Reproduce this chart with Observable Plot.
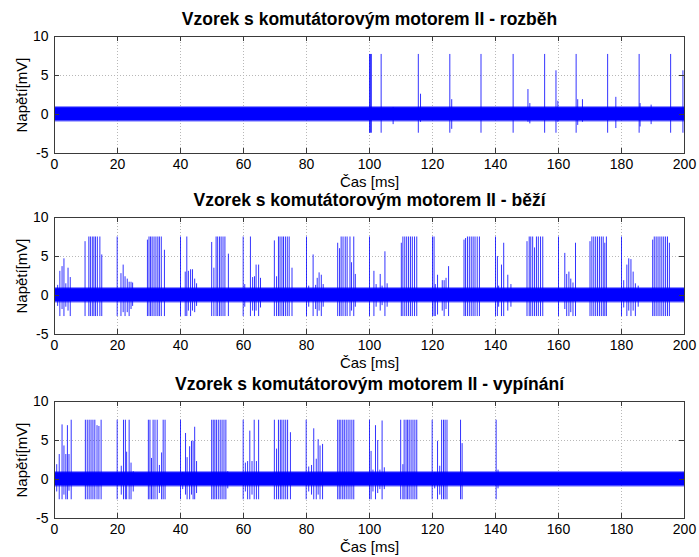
<!DOCTYPE html>
<html><head><meta charset="utf-8">
<script src="https://cdn.jsdelivr.net/npm/d3@7"></script>
<script src="https://cdn.jsdelivr.net/npm/@observablehq/plot@0.6"></script>
<style>
body{margin:0;background:#fff;}
#chart{position:relative;width:699px;height:557px;background:#fff;overflow:hidden;}
#chart svg{position:absolute;left:0;}
</style></head><body><div id="chart"></div>
<script>
// ---- data ----
const titles = [
  "Vzorek s komutátorovým motorem II - rozběh",
  "Vzorek s komutátorovým motorem II - běží",
  "Vzorek s komutátorovým motorem II - vypínání"
];
const xLabel = "Čas [ms]";
const yLabel = "Napětí[mV]";
const xTicks = [0, 20, 40, 60, 80, 100, 120, 140, 160, 180, 200];
const yTicks = [-5, 0, 5, 10];
const xGrid = [20, 40, 60, 80, 100, 120, 140, 160, 180];
const yGrid = [0, 5];

// noise band envelope (time, low, high)
const bandTime = [0, 200];
const bandOuterLo = [-0.95, -0.95];
const bandOuterHi = [1.0, 1.0];
const bandInnerLo = [-0.8, -0.8];
const bandInnerHi = [0.85, 0.85];

// spikes: [time ms, max mV, min mV]
const spikesStart = [
  [100.0,7.7,-2.4],[100.3,7.7,-2.4],[100.6,7.7,-2.4],[103.7,7.7,-2.4],[107.5,0.9,-1.3],
  [115.5,7.7,-2.4],[116.2,2.6,-1.0],[125.5,7.7,-2.4],[126.1,1.9,-1.9],[135.4,7.7,-2.4],
  [145.6,7.7,-2.4],[150.3,3.2,-1.0],[150.9,1.4,-1.2],[155.6,7.7,-2.4],[159.2,5.6,-2.4],
  [159.8,1.7,-1.0],[165.6,7.7,-2.4],[166.1,1.9,-1.4],[167.6,1.9,-1.0],[175.6,7.7,-2.4],
  [178.2,2.2,-1.8],[185.6,7.7,-2.4],[185.9,1.4,-1.6],[189.4,1.2,-1.3],[195.6,7.7,-2.4],
  [199.5,5.6,-2.4]
];
const spikesRunning = [
  [1.0,1.3,-1.4],[1.7,3.1,-2.7],[2.4,3.7,-1.8],[3.0,4.7,-2.7],[3.6,1.5,-1.5],[4.3,3.5,-2.0],[5.0,2.3,-2.7],
  [9.7,6.9,-2.7],[10.9,7.5,-2.7],[11.4,7.5,-2.7],[12.0,7.5,-2.7],[12.5,7.5,-2.7],[13.0,7.5,-2.7],[13.6,7.5,-2.7],[14.4,7.5,-2.7],[15.0,5.2,-2.7],
  [19.9,7.5,-2.7],[21.1,2.8,-2.7],[21.8,3.9,-2.2],[22.4,2.4,-2.7],[23.1,2.1,-2.2],[23.7,1.7,-2.7],[24.3,1.7,-1.8],[24.8,1.6,-1.4],
  [29.5,7.1,-2.7],[30.0,7.5,-2.7],[30.5,7.5,-2.7],[31.0,7.5,-2.7],[31.6,7.5,-2.7],[32.2,7.5,-2.7],[32.8,7.5,-2.7],[33.3,7.5,-2.7],[33.9,7.5,-2.7],[34.9,5.8,-2.7],
  [40.0,7.5,-2.7],[41.5,3.0,-2.7],[42.0,7.5,-2.7],[42.5,3.1,-2.0],[43.2,3.3,-2.7],[43.8,3.3,-2.0],[44.5,2.1,-2.2],[45.1,1.5,-1.4],
  [49.9,6.8,-2.7],[50.6,3.5,-2.7],[51.3,7.5,-2.7],[51.8,7.5,-2.7],[52.4,7.5,-2.7],[52.9,7.5,-2.7],[53.5,7.5,-2.7],[54.1,7.5,-2.7],[55.2,5.3,-2.7],
  [59.9,7.5,-2.7],[60.4,1.4,-1.5],[62.2,7.5,-2.7],[62.9,2.3,-2.0],[63.5,2.4,-2.7],[64.0,3.9,-2.0],[64.8,3.9,-2.7],[65.4,2.2,-1.6],
  [69.8,7.0,-2.7],[70.5,2.4,-2.7],[71.1,7.5,-2.7],[71.6,7.5,-2.7],[72.2,7.5,-2.7],[72.7,7.5,-2.7],[73.3,7.5,-2.7],[73.9,7.5,-2.7],[74.5,7.5,-2.7],[75.4,3.5,-2.7],
  [80.0,7.5,-2.7],[80.7,1.2,-1.5],[82.1,5.2,-2.7],[82.9,1.3,-1.8],[83.4,2.2,-2.7],[84.0,2.9,-2.0],[84.7,2.6,-2.7],[85.3,1.4,-1.5],
  [89.9,6.7,-2.7],[90.5,6.0,-2.7],[91.0,7.5,-2.7],[91.6,7.5,-2.7],[92.3,7.5,-2.7],[92.9,7.5,-2.7],[93.8,7.5,-2.7],[94.3,4.2,-2.0],[95.0,7.5,-2.7],[95.5,2.7,-1.5],
  [100.0,7.5,-2.7],[101.4,3.1,-2.7],[102.1,1.4,-1.5],[103.4,2.7,-2.0],[104.0,1.2,-1.3],[104.9,5.6,-2.7],[105.6,1.5,-1.5],
  [110.1,6.7,-2.7],[110.6,7.5,-2.7],[111.2,7.5,-2.7],[111.8,7.5,-2.7],[112.4,7.5,-2.7],[113.0,7.5,-2.7],[113.6,7.5,-2.7],[114.3,7.5,-2.7],[115.0,7.5,-2.7],
  [120.0,7.5,-2.7],[120.5,7.5,-2.7],[120.9,1.4,-2.7],[121.6,2.6,-2.5],[123.1,1.9,-2.0],[123.7,1.9,-2.7],[124.3,2.2,-1.8],[125.1,3.7,-2.7],
  [130.0,7.1,-2.7],[130.5,7.3,-2.7],[131.1,7.5,-2.7],[131.7,7.5,-2.7],[132.3,7.5,-2.7],[132.9,7.5,-2.7],[133.5,7.5,-2.7],[134.2,7.5,-2.7],[134.9,7.5,-2.7],
  [140.0,7.5,-2.7],[140.6,5.0,-2.7],[141.0,1.2,-1.5],[141.9,3.9,-2.7],[142.6,6.7,-2.7],[143.9,2.6,-2.0],[144.9,1.4,-1.5],
  [150.0,6.9,-2.7],[150.7,7.5,-2.7],[151.2,7.5,-2.7],[151.8,7.5,-2.7],[152.4,6.1,-2.7],[153.0,7.5,-2.7],[153.6,7.5,-2.7],[154.3,7.5,-2.7],[155.0,7.5,-2.7],
  [160.0,7.5,-2.7],[162.0,5.4,-1.8],[162.6,2.7,-2.7],[163.3,3.0,-2.7],[163.9,2.1,-2.2],[164.6,1.6,-2.7],[165.4,6.7,-2.7],
  [170.0,6.9,-2.7],[170.6,7.5,-2.7],[171.2,7.5,-2.7],[171.8,7.5,-2.7],[172.4,7.5,-2.7],[173.0,7.5,-2.7],[173.6,7.5,-2.7],[174.2,7.5,-2.7],[174.7,6.7,-2.7],[175.2,7.5,-2.7],
  [180.0,7.5,-2.7],[180.7,1.9,-1.6],[181.7,3.9,-2.7],[182.3,4.7,-2.0],[183.0,4.6,-2.7],[183.7,3.0,-2.0],[184.4,1.5,-2.7],[185.3,1.2,-1.5],
  [189.9,7.1,-2.7],[190.4,7.5,-2.7],[191.0,7.5,-2.7],[191.6,7.5,-2.7],[192.2,7.5,-2.7],[192.8,7.5,-2.7],[193.4,7.5,-2.7],[194.0,7.5,-2.7],[194.6,7.5,-2.7],[195.2,6.7,-2.7]
];
const spikesStopping = [
  [0.0,7.6,-2.6],[0.7,1.9,-1.6],[1.5,3.2,-2.6],[2.4,7.0,-2.6],[3.0,4.3,-2.0],[3.6,3.2,-2.6],[4.1,6.9,-2.6],[4.6,3.2,-1.5],[5.3,7.6,-2.6],
  [9.8,7.6,-2.6],[10.4,7.6,-2.6],[11.0,7.6,-2.6],[11.6,7.6,-2.6],[12.2,7.6,-2.6],[12.8,7.6,-2.6],[13.5,6.9,-2.6],[14.1,6.8,-2.6],[14.8,7.6,-2.6],
  [19.9,7.6,-2.6],[21.2,1.7,-2.0],[21.9,7.6,-2.6],[22.5,7.6,-2.6],[22.9,3.5,-2.6],[23.7,7.6,-2.6],[24.3,2.1,-2.6],[25.0,1.0,-1.6],
  [29.8,7.6,-2.6],[30.3,7.6,-2.6],[30.8,2.7,-2.6],[31.3,7.6,-2.6],[31.9,7.6,-2.6],[32.6,7.6,-2.6],[33.3,1.8,-1.8],[34.0,3.4,-2.6],[34.5,7.6,-2.6],[35.1,7.6,-2.6],
  [40.0,7.6,-2.6],[40.7,0.9,-1.3],[41.6,5.9,-2.0],[42.1,2.8,-2.6],[42.9,4.2,-2.6],[43.5,4.9,-2.0],[44.0,4.9,-2.6],[44.5,6.7,-2.6],[45.1,2.3,-1.8],
  [49.9,7.6,-2.6],[50.4,7.6,-2.6],[50.9,7.6,-2.6],[51.4,7.6,-2.6],[52.0,7.6,-2.6],[52.6,7.6,-2.6],[53.2,7.6,-2.6],[53.8,7.6,-2.6],[54.4,7.6,-2.6],[55.0,1.0,-1.2],
  [59.9,7.6,-2.6],[60.6,2.1,-1.6],[61.3,2.3,-2.6],[62.0,6.2,-2.6],[62.7,2.3,-2.0],[63.4,7.6,-2.6],[64.1,2.3,-2.6],[64.8,7.6,-2.6],
  [69.8,7.6,-2.6],[70.5,3.9,-2.6],[71.1,7.6,-2.6],[71.7,7.6,-2.6],[72.2,7.6,-2.6],[72.8,7.6,-2.6],[73.4,7.6,-2.6],[74.0,7.6,-2.6],[74.9,6.0,-2.6],
  [79.9,7.6,-2.6],[80.7,1.6,-1.6],[81.6,1.8,-2.0],[82.3,6.5,-2.6],[83.1,2.6,-2.6],[83.7,5.1,-2.0],[84.3,4.3,-2.6],[85.1,4.5,-2.6],
  [89.9,7.6,-2.6],[90.4,7.6,-2.6],[90.9,7.6,-2.6],[91.5,7.6,-2.6],[92.0,7.6,-2.6],[92.6,7.6,-2.6],[93.2,7.6,-2.6],[93.8,7.6,-2.6],[94.4,7.6,-2.6],[95.0,7.6,-2.6],
  [100.0,7.6,-2.6],[100.5,3.6,-2.6],[101.1,1.2,-1.6],[101.9,6.9,-2.6],[102.6,5.0,-1.8],[103.3,1.2,-1.3],[104.0,7.5,-2.6],[104.7,1.5,-1.3],
  [109.9,7.6,-2.6],[110.6,1.9,-2.6],[111.0,7.6,-2.6],[111.6,7.6,-2.6],[112.1,7.6,-2.6],[112.6,7.6,-2.6],[113.2,7.6,-2.6],[113.8,7.6,-2.6],[114.4,7.6,-2.6],[115.0,7.6,-2.6],
  [119.9,7.6,-2.6],[120.7,0.9,-1.2],[121.6,4.9,-2.6],[122.3,1.7,-2.0],[122.9,7.6,-2.6],[123.5,7.6,-2.6],[124.0,7.6,-2.6],[124.6,7.6,-2.6],
  [128.9,7.6,-2.6],[129.4,4.6,-2.6],
  [140.2,7.6,-2.6],[140.8,1.2,-1.2]
];

// ---- drawing ----
const W = 699, H = 192, MT = 36, MB = 39, ML = 54, MR = 15;
const PW = W - ML - MR, PH = H - MT - MB;
const FONT = "'Liberation Sans', Arial, Helvetica, sans-serif";
const band = bandTime.map((t, i) => ({t, olo: bandOuterLo[i], ohi: bandOuterHi[i], ilo: bandInnerLo[i], ihi: bandInnerHi[i]}));

function panel(title, spikes, top) {
  const svg = Plot.plot({
    width: W, height: H,
    marginTop: MT, marginBottom: MB, marginLeft: ML, marginRight: MR,
    style: {background: "transparent", overflow: "visible", fontFamily: FONT, fontSize: "14px", color: "black"},
    x: {domain: [0, 200]},
    y: {domain: [-5, 10]},
    marks: [
      Plot.ruleX(xGrid, {stroke: "#b8b8b8", strokeDasharray: "1,2"}),
      Plot.ruleY(yGrid, {stroke: "#b8b8b8", strokeDasharray: "1,2"}),
      Plot.areaY(band, {x: "t", y1: "olo", y2: "ohi", fill: "#0000ff", fillOpacity: 0.6}),
      Plot.areaY(band, {x: "t", y1: "ilo", y2: "ihi", fill: "#0000ff"}),
      Plot.ruleX(spikes, {x: d => d[0], y1: d => d[2], y2: d => d[1], stroke: "#0000ff", strokeWidth: 1, strokeOpacity: 0.8}),
      Plot.frame({stroke: "#3a3a3a"}),
      Plot.ruleX(xTicks, {insetTop: PH - 5, stroke: "#3a3a3a"}),
      Plot.ruleX(xTicks, {insetBottom: PH - 5, stroke: "#3a3a3a"}),
      Plot.ruleY(yTicks, {insetRight: PW - 5, stroke: "#3a3a3a"}),
      Plot.ruleY(yTicks, {insetLeft: PW - 5, stroke: "#3a3a3a"}),
      Plot.axisX({ticks: xTicks, tickSize: 0, tickPadding: 6, label: null, fontSize: 14, tickFormat: d => String(d)}),
      Plot.axisY({ticks: yTicks, tickSize: 0, tickPadding: 6, label: null, fontSize: 14, tickFormat: d => String(d)}),
      Plot.text([title], {text: d => d, frameAnchor: "top", textAnchor: "middle", lineAnchor: "middle", dy: -17.5, fontSize: 17.5, fontWeight: "bold", fill: "black"}),
      Plot.text([xLabel], {text: d => d, frameAnchor: "bottom", textAnchor: "middle", lineAnchor: "middle", dy: 29, fontSize: 15, fill: "black"}),
      Plot.text([yLabel], {text: d => d, frameAnchor: "left", textAnchor: "middle", lineAnchor: "middle", dx: -32, rotate: -90, fontSize: 15, fill: "black"})
    ]
  });
  svg.style.top = top + "px";
  document.getElementById("chart").appendChild(svg);
}
panel(titles[0], spikesStart, 0);
panel(titles[1], spikesRunning, 181);
panel(titles[2], spikesStopping, 365);
</script></body></html>
